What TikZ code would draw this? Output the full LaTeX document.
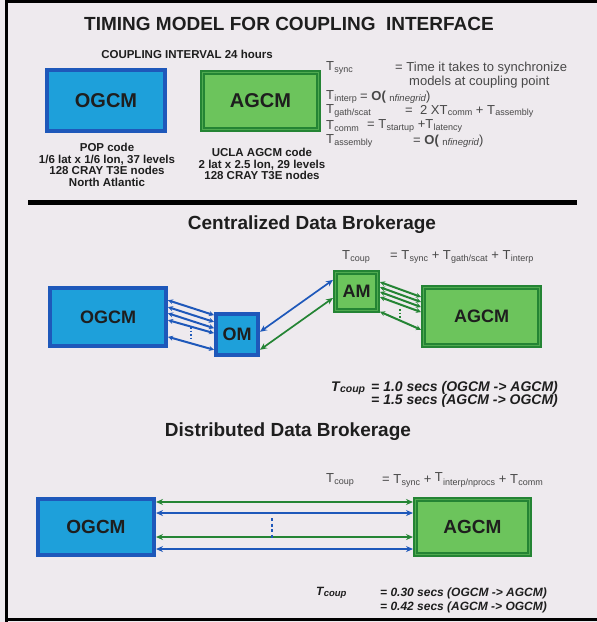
\documentclass[tikz,border=0pt]{standalone}
\usepackage{fontspec}
\setmainfont{Liberation Sans}
\usetikzlibrary{arrows.meta,calc}

\definecolor{paper}{RGB}{238,234,238}
\definecolor{ofill}{RGB}{30,160,218}
\definecolor{oline}{RGB}{30,88,186}
\definecolor{gfill}{RGB}{108,196,92}
\definecolor{gmid}{RGB}{80,170,80}
\definecolor{gline}{RGB}{36,132,52}
\definecolor{ink}{RGB}{30,30,30}
\definecolor{gtxt}{RGB}{72,72,72}

% T with its lowered index
\newcommand{\Tx}[2][9]{T\kern0.3pt\raisebox{-1.2pt}{\fontsize{#1}{#1}\selectfont #2}}
\newcommand{\nfine}{\raisebox{-1.2pt}{\fontsize{9.5}{9.5}\selectfont n\textit{finegrid}}}

\begin{document}
\begin{tikzpicture}[x=1pt,y=1pt,yscale=-1,xscale=1,
  obox/.style={draw=oline,line width=4pt,fill=ofill,inner sep=0pt,outer sep=2pt,text=ink,font=\bfseries},
  gbox/.style={draw=gline,line width=1.8pt,double=gmid,double distance=1.4pt,fill=gfill,inner sep=0pt,outer sep=2.5pt,text=ink,font=\bfseries},
  eq/.style={anchor=west,inner sep=0pt,text=gtxt,font=\fontsize{13}{15}\selectfont},
  res/.style={anchor=west,inner sep=0pt,text=ink,font=\fontsize{14}{14}\selectfont\bfseries\itshape},
  ressm/.style={anchor=west,inner sep=0pt,text=ink,font=\fontsize{12}{12}\selectfont\bfseries\itshape},
  head/.style={inner sep=0pt,text=ink,font=\fontsize{19}{19}\selectfont\bfseries},
  boxcap/.style={inner sep=0pt,text=ink,align=center,font=\fontsize{11.5}{11.7}\selectfont\bfseries},
  bund/.style={#1,line width=2pt,{Stealth[length=5pt,width=5pt]}-{Stealth[length=5pt,width=5pt]}},
  link/.style={#1,line width=1.7pt,{Stealth[length=7pt,width=6pt]}-{Stealth[length=7pt,width=6pt]}}
]
%set diagram size 597 x 622
\fill[paper] (0,0) rectangle (597,622);
\useasboundingbox (0,0) rectangle (597,622);

%Frame
\draw[line width=3pt] (6,622) -- (6,1.5) -- (597,1.5);
\draw[line width=3pt] (6,619.5) -- (597,619.5);
%Separator bar
\draw[line width=5pt] (28,202) -- (577,202);

% Text Node
\node[head] (title) at (289,24) {TIMING MODEL FOR COUPLING\ \ INTERFACE};
% Text Node
\node[inner sep=0pt,text=ink,font=\fontsize{11.5}{11.5}\selectfont\bfseries] (interval) at (187,54) {COUPLING INTERVAL 24 hours};

%Shape: Rectangle
\node[obox,minimum width=118,minimum height=61,font=\fontsize{20}{20}\selectfont\bfseries] (ogcmA) at (106,100.5) {OGCM};
%Shape: Rectangle
\node[gbox,minimum width=116,minimum height=57,font=\fontsize{20}{20}\selectfont\bfseries] (agcmA) at (260.5,101) {AGCM};
% Text Node
\node[boxcap] (popcap) at (107,165) {POP code\\1/6 lat x 1/6 lon, 37 levels\\128 CRAY T3E nodes\\North Atlantic};
% Text Node
\node[boxcap] (uclacap) at (262,164) {UCLA AGCM code\\2 lat x 2.5 lon, 29 levels\\128 CRAY T3E nodes};

% Text Node
\node[eq] (tsync) at (326,68) {\Tx{sync}};
\node[eq] (tsyncdef) at (395,68) {= Time it takes to synchronize};
\node[eq] (tsyncdefb) at (409,82) {models at coupling point};
\node[eq] (tinterp) at (326,97) {\Tx{interp}};
\node[eq] (tinterpdef) at (360,97) {= \textbf{O(} \nfine)};
\node[eq] (tgath) at (326,111) {\Tx{gath/scat}};
\node[eq] (tgathdef) at (405,111) {=\ \ 2 X\Tx{comm} + \Tx{assembly}};
\node[eq] (tcomm) at (326,126) {\Tx{comm}};
\node[eq] (tcommdef) at (367,126) {= \Tx{startup} +\Tx{latency}};
\node[eq] (tasm) at (326,141) {\Tx{assembly}};
\node[eq] (tasmdef) at (413,141) {= \textbf{O(} \nfine)};

% Text Node
\node[head] (central) at (312,225) {Centralized Data Brokerage};
\node[eq] (tcoupc) at (342,257) {\Tx{coup}};
\node[eq] (tcoupcdef) at (390,257) {= \Tx{sync} + \Tx{gath/scat} + \Tx{interp}};

%Shape: Rectangle
\node[obox,minimum width=116,minimum height=58,font=\fontsize{18}{18}\selectfont\bfseries] (ogcmB) at (108,317) {OGCM};
\node[obox,minimum width=42,minimum height=41,font=\fontsize{18}{18}\selectfont\bfseries] (om) at (237,334.5) {OM};
\node[gbox,minimum width=42,minimum height=38,font=\fontsize{18}{18}\selectfont\bfseries] (am) at (356.5,291.5) {AM};
\node[gbox,minimum width=116,minimum height=58,font=\fontsize{18}{18}\selectfont\bfseries] (agcmB) at (481.5,316.5) {AGCM};

%Straight Lines
\foreach \a/\b in {0.23/0.07,0.34/0.22,0.44/0.36,0.55/0.47,0.82/0.84}
  \draw[bund=oline] ($(ogcmB.north east)!\a!(ogcmB.south east)$) -- ($(om.north west)!\b!(om.south west)$);
\foreach \a/\b in {0.28/0.19,0.40/0.27,0.51/0.35,0.63/0.43,0.97/0.71}
  \draw[bund=gline] ($(am.north east)!\a!(am.south east)$) -- ($(agcmB.north west)!\b!(agcmB.south west)$);
\draw[link=oline] ($(om.north east)!0.44!(om.south east)$) -- ($(am.north west)!0.23!(am.south west)$);
\draw[link=gline] ($(am.north west)!0.65!(am.south west)$) -- ($(om.north east)!0.84!(om.south east)$);
%dots
\draw[oline,line width=1.2pt,dash pattern=on 1.5pt off 2pt] (191,327) -- (191,339);
\draw[gline,line width=1.2pt,dash pattern=on 1.5pt off 2pt] (400,309) -- (400,318);

% Text Node
\node[res] (tcoupcres) at (331,388) {\Tx[10.5]{coup}};
\node[res] (rescone) at (371,388) {= 1.0 secs (OGCM -> AGCM)};
\node[res] (resctwo) at (371,401) {= 1.5 secs (AGCM -> OGCM)};

% Text Node
\node[head] (distrib) at (288,432) {Distributed Data Brokerage};
\node[eq] (tcoupd) at (326,480) {\Tx{coup}};
\node[eq] (tcoupddef) at (382,480) {= \Tx{sync} + \raisebox{2pt}{T}\kern0.3pt\raisebox{-1.2pt}{\fontsize{9}{9}\selectfont interp/nprocs} + \Tx{comm}};

%Shape: Rectangle
\node[obox,minimum width=116,minimum height=56,font=\fontsize{19}{19}\selectfont\bfseries] (ogcmC) at (96,527) {OGCM};
\node[gbox,minimum width=114,minimum height=55,font=\fontsize{19}{19}\selectfont\bfseries] (agcmC) at (472.5,527) {AGCM};

%Straight Lines
\draw[link=gline] ($(ogcmC.north east)!0.083!(ogcmC.south east)$) -- ($(agcmC.north west)!0.083!(agcmC.south west)$);
\draw[link=oline] ($(ogcmC.north east)!0.267!(ogcmC.south east)$) -- ($(agcmC.north west)!0.267!(agcmC.south west)$);
\draw[link=gline] ($(ogcmC.north east)!0.667!(ogcmC.south east)$) -- ($(agcmC.north west)!0.667!(agcmC.south west)$);
\draw[link=oline] ($(ogcmC.north east)!0.867!(ogcmC.south east)$) -- ($(agcmC.north west)!0.867!(agcmC.south west)$);
%dots
\draw[oline,line width=1.5pt,dash pattern=on 3pt off 2.5pt] (272,518) -- (272,538);

% Text Node
\node[ressm] (tcoupdres) at (316,593) {\Tx[9.5]{coup}};
\node[ressm] (resdone) at (380,593) {= 0.30 secs (OGCM -> AGCM)};
\node[ressm] (resdtwo) at (380,607) {= 0.42 secs (AGCM -> OGCM)};

\end{tikzpicture}
\end{document}
